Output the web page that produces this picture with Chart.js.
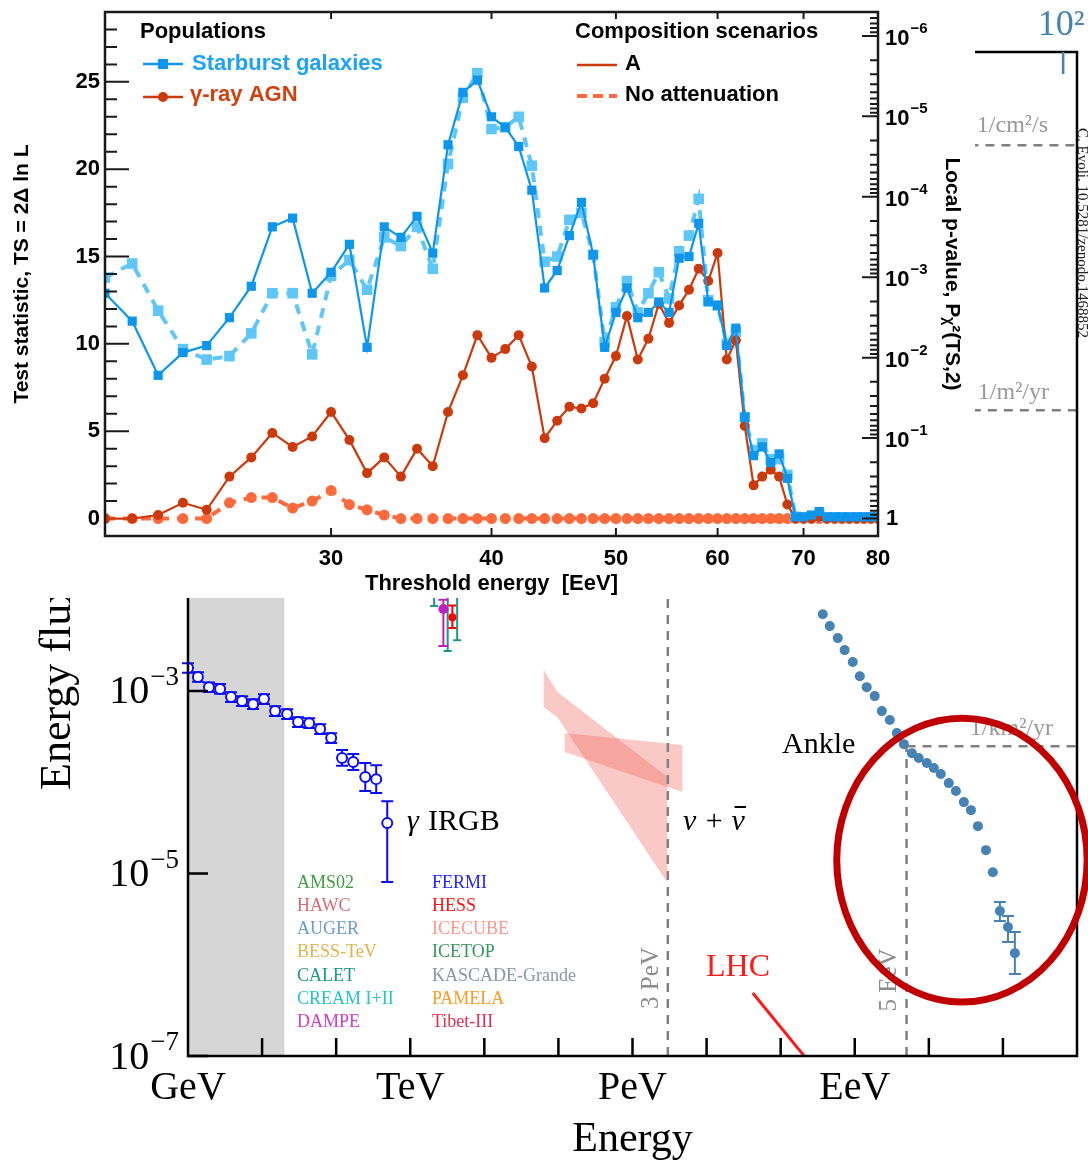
<!DOCTYPE html>
<html>
<head>
<meta charset="utf-8">
<script src="https://cdn.jsdelivr.net/npm/chart.js@4.4.1/dist/chart.umd.min.js"></script>
<style>
  html, body { margin: 0; padding: 0; background: #fff; }
  body { width: 1088px; height: 1161px; position: relative; overflow: hidden; }
  #spectrumBox { position: absolute; left: 0; top: 0; width: 1088px; height: 1161px; }
  #tsBox { position: absolute; left: 0; top: 0; width: 975px; height: 598px; background: #fff; }
</style>
</head>
<body>
<div id="spectrumBox"><canvas id="spectrumChart"></canvas></div>
<div id="tsBox"><canvas id="tsChart"></canvas></div>
<script>
// ---- top panel: test statistic vs threshold energy ----
const thresholdEeV = [20,21,22,23,24,25,26,27,28,29,30,31,32,33,34,35,36,37,38,39,40,41,42,43,44,45,46,47,48,49,50,
  51,52,53,54,55,56,57,58,59,60,61,62,63,64,65,66,67,68,69,70,71,72,73,74,75,76,77,78,79,80];
const tsStarburst = [12.9,11.3,8.2,9.5,9.9,11.5,13.3,16.7,17.2,12.9, 14.1,15.7,9.8,16.7,16.1,17.3,15.2,21.4,24.4,25.1,
  23.0,22.4,21.3,18.8,13.2,14.2,16.2,18.1,15.1,9.8, 11.8,13.2,11.5,11.8,12.4,11.8,14.9,15.0,16.9,12.4,
  12.2,9.9,10.9,5.8,3.6,4.1,3.2,3.7,2.3,0.1, 0.1,0.2,0.4,0.1,0.1,0.1,0.1,0.1,0.1,0.1, 0.1];
const tsStarburstNoAtt = [13.8,14.6,11.9,9.7,9.1,9.3,10.6,12.9,12.9,9.4, 13.9,14.8,13.1,16.1,15.6,16.7,14.3,20.3,24.1,25.5,
  22.3,22.4,23.0,20.2,14.7,15.0,17.1,17.5,15.1,10.1, 12.1,13.6,11.8,12.9,14.1,12.6,15.3,16.2,18.3,12.5,
  12.2,10.0,10.7,5.8,3.9,4.3,3.4,3.4,2.5,0.1, 0.05,0.1,0.2,0.05,0.05,0.05,0.05,0.05,0.05,0.05, 0.05];
const tsAgn = [0,0,0.2,0.9,0.5,2.4,3.5,4.9,4.1,4.7, 6.1,4.5,2.6,3.5,2.4,4.0,3.0,6.1,8.2,10.5,
  9.2,9.7,10.5,8.7,4.6,5.6,6.4,6.3,6.6,8.0, 9.3,11.6,9.1,10.3,12.3,11.2,12.2,13.1,14.3,13.6,
  15.2,9.1,10.2,5.3,1.9,2.4,2.8,2.4,0.8,0, 0,0,0.1,0,0,0,0,0,0,0, 0];
const tsAgnNoAtt = [0,0,0,0,0,0.9,1.2,1.2,0.6,1.0, 1.6,0.8,0.5,0.2,0,0,0,0,0,0,
  0,0,0,0,0,0,0,0,0,0, 0,0,0,0,0,0,0,0,0,0,
  0,0,0,0,0,0,0,0,0,0, 0,0,0,0,0,0,0,0,0,0, 0];
const thresholdTicks = [30, 40, 50, 60, 70, 80];
const tsTicks = [0, 5, 10, 15, 20, 25];
const pExponents = [0, 1, 2, 3, 4, 5, 6];

// ---- bottom panel: cosmic-ray energy flux ----
const irgbE = [1.0,1.36,1.92,2.71,3.81,5.37,7.56,10.6,15.0,21.8,30.6,43.2,60.8,85.6,120,170,247,347,489];
const irgbFlux = [1.78e-3,1.42e-3,1.10e-3,1.05e-3,8.55e-4,7.73e-4,7.16e-4,8.13e-4,6.01e-4,5.57e-4,4.55e-4,4.43e-4,3.82e-4,3.04e-4,1.84e-4,1.66e-4,1.14e-4,1.08e-4,3.56e-5];
const irgbHigh = [2.01e-3,1.60e-3,1.24e-3,1.19e-3,9.66e-4,8.73e-4,8.09e-4,9.19e-4,6.79e-4,6.29e-4,5.14e-4,5.01e-4,4.32e-4,3.44e-4,2.25e-4,2.03e-4,1.62e-4,1.53e-4,6.2e-5];
const irgbLow = [1.58e-3,1.26e-3,9.73e-4,9.29e-4,7.57e-4,6.84e-4,6.34e-4,7.19e-4,5.32e-4,4.93e-4,4.03e-4,3.92e-4,3.38e-4,2.69e-4,1.51e-4,1.36e-4,8.0e-5,7.6e-5,8.05e-6];

const augerE = [3.7e8,4.6e8,5.9e8,7.3e8,9.4e8,1.17e9,1.45e9,1.86e9,2.32e9,2.97e9,3.7e9,4.6e9,5.9e9,7.3e9,9.4e9,
  1.17e10,1.45e10,1.86e10,2.32e10,2.97e10,3.7e10,4.6e10,5.9e10,7.3e10,9.1e10,1.17e11,1.45e11];
const augerFlux = [6.93e-3,5.13e-3,3.79e-3,2.80e-3,2.07e-3,1.45e-3,1.10e-3,8.77e-4,6.01e-4,4.79e-4,3.45e-4,2.61e-4,2.08e-4,1.84e-4,1.62e-4,
  1.43e-4,1.23e-4,9.77e-5,8.00e-5,6.05e-5,4.94e-5,3.30e-5,1.80e-5,1.03e-5,3.87e-6,2.59e-6,1.34e-6];
const augerLow = [null,null,null,null,null,null,null,null,null,null,null,null,null,null,null,
  null,null,null,null,null,null,null,null,null,3.01e-6,1.77e-6,7.91e-7];
const augerHigh = [null,null,null,null,null,null,null,null,null,null,null,null,null,null,null,
  null,null,null,null,null,null,null,null,null,4.86e-6,3.41e-6,2.28e-6];

const dampeE = [2.8e3], dampeFlux = [7.9e-3], dampeLow = [3.1e-3], dampeHigh = [1.0e-2];
const caletE = [2.1e3, 3.2e3, 4.3e3], caletFlux = [1.2e-2, 1.3e-2, 1.2e-2], caletLow = [8.5e-3, 2.73e-3, 3.6e-3], caletHigh = [1.6e-2, 1.7e-2, 1.6e-2];
const hessE = [3.7e3], hessFlux = [6.4e-3], hessLow = [4.9e-3], hessHigh = [8.6e-3];

const nuBandAUpperE = [6.27e4, 9.69e4, 2.97e6], nuBandAUpper = [1.73e-3, 9.71e-4, 1.14e-4];
const nuBandALowerE = [6.27e4, 9.69e4, 2.97e6], nuBandALower = [6.65e-4, 5.16e-4, 7.85e-6];
const nuBandBUpperE = [1.21e5, 4.74e6], nuBandBUpper = [3.45e-4, 2.55e-4];
const nuBandBLowerE = [1.21e5, 2.97e6, 4.74e6], nuBandBLower = [2.14e-4, 8.83e-5, 7.80e-5];

const lhcE = [4.2e7, 2.6e8], lhcFlux = [4.9e-7, 8e-8];

const kneeE = 3e6, kneeFlux = 1.19;
const ankleE = 5e9, ankleFlux = 2.48e-4;
const cm2sFlux = 9.5e2;
const shadeRange = [1, 20];
const energyTicks = [1, 1e3, 1e6, 1e9];
const energyLabels = ['GeV', 'TeV', 'PeV', 'EeV'];
const energyDecades = [1e1,1e2,1e3,1e4,1e5,1e6,1e7,1e8,1e9,1e10,1e11];
const fluxTicks = [1e-7, 1e-5, 1e-3];
const fluxExponents = [-7, -5, -3];
const topAxisE = [6.5e11], topAxisLabels = ['10\u00B2'];

const experimentNames = ['AMS02','HAWC','AUGER','BESS-TeV','CALET','CREAM I+II','DAMPE',
  'FERMI','HESS','ICECUBE','ICETOP','KASCADE-Grande','PAMELA','Tibet-III'];
const experimentColors = ['#3f9f3f','#d76b74','#6b9bcf','#e3b24c','#1b968a','#25c4c6','#cf3acf',
  '#1f1fff','#ff1414','#ff968a','#3a9462','#8a95a5','#ff9a22','#e0304f'];

const pts = (xs, ys) => xs.map((v, i) => ({ x: v, y: ys[i] }));

const SANS = '"Liberation Sans", Arial, sans-serif';
const SERIF = '"Liberation Serif", "DejaVu Serif", serif';

// "10" with a raised exponent; anchor is the left or right edge
function drawPow(ctx, exp, x, y, baseFont, expFont, rise, align) {
  ctx.font = baseFont;
  const wb = ctx.measureText('10').width;
  ctx.font = expFont;
  const et = '\u2212' + exp;
  const we = ctx.measureText(et).width;
  const x0 = align === 'right' ? x - wb - we : x;
  ctx.textAlign = 'left';
  ctx.font = baseFont;
  ctx.fillText('10', x0, y);
  ctx.font = expFont;
  ctx.fillText(et, x0 + wb + 1, y - rise);
}

// error bars drawn before each dataset's points
const errorBars = {
  id: 'errorBars',
  beforeDatasetDraw(chart, args) {
    const ds = chart.data.datasets[args.index];
    if (!ds.errLow) return;
    const { ctx, scales: { x, y } } = chart;
    ctx.save();
    ctx.strokeStyle = ds.errColor;
    ctx.lineWidth = 2;
    ds.data.forEach((p, i) => {
      if (ds.errLow[i] == null) return;
      const px = x.getPixelForValue(p.x);
      const y1 = y.getPixelForValue(ds.errLow[i]);
      const y2 = y.getPixelForValue(ds.errHigh[i]);
      const c = ds.capWidth || 6;
      ctx.beginPath();
      ctx.moveTo(px, y1); ctx.lineTo(px, y2);
      ctx.moveTo(px - c, y1); ctx.lineTo(px + c, y1);
      ctx.moveTo(px - c, y2); ctx.lineTo(px + c, y2);
      ctx.stroke();
    });
    ctx.restore();
  }
};

const spectrumDecor = {
  id: 'spectrumDecor',
  beforeDatasetsDraw(chart) {
    const { ctx, chartArea: a, scales: { x } } = chart;
    const x0 = x.getPixelForValue(shadeRange[0]);
    const x1 = x.getPixelForValue(shadeRange[1]);
    ctx.save();
    ctx.fillStyle = '#d6d6d6';
    ctx.fillRect(x0, a.top, x1 - x0, a.bottom - a.top);
    ctx.restore();
  },
  afterDraw(chart) {
    const { ctx, chartArea: a, scales: { x, y } } = chart;
    ctx.save();
    // frame
    ctx.strokeStyle = '#000';
    ctx.lineWidth = 2.5;
    ctx.strokeRect(a.left, a.top, a.right - a.left, a.bottom - a.top);
    // inward ticks
    ctx.beginPath();
    energyDecades.forEach(v => {
      const px = x.getPixelForValue(v);
      ctx.moveTo(px, a.bottom); ctx.lineTo(px, a.bottom - 18);
    });
    fluxTicks.forEach(v => {
      const py = y.getPixelForValue(v);
      ctx.moveTo(a.left, py); ctx.lineTo(a.left + 20, py);
    });
    ctx.stroke();
    // flux tick labels
    ctx.fillStyle = '#000';
    ctx.textBaseline = 'middle';
    fluxTicks.forEach((v, i) => {
      drawPow(ctx, String(-fluxExponents[i]), a.left - 10, y.getPixelForValue(v) + 2,
        '40px ' + SERIF, '27px ' + SERIF, 15, 'right');
    });
    // top axis tick
    ctx.strokeStyle = '#4682b4';
    ctx.fillStyle = '#4682b4';
    ctx.font = '36px ' + SERIF;
    ctx.textAlign = 'center';
    topAxisE.forEach((v, i) => {
      const px = x.getPixelForValue(v);
      ctx.beginPath(); ctx.moveTo(px, a.top); ctx.lineTo(px, a.top + 22); ctx.stroke();
      ctx.fillText(topAxisLabels[i], px - 2, 26);
    });
    // y title
    ctx.fillStyle = '#000';
    ctx.save();
    ctx.translate(58, 790);
    ctx.rotate(-Math.PI / 2);
    ctx.font = '44px ' + SERIF;
    ctx.textAlign = 'left';
    ctx.fillText('Energy flux [GeV/m\u00B2/s/sr]', 0, 0);
    ctx.restore();
    // annotations
    ctx.textAlign = 'left';
    ctx.font = '30px ' + SERIF;
    ctx.fillText('Ankle', 782, 745);
    ctx.font = 'italic 30px ' + SERIF;
    ctx.fillText('\u03B3', 407, 822);
    ctx.font = '30px ' + SERIF;
    ctx.fillText('IRGB', 428, 822);
    ctx.font = 'italic 30px ' + SERIF;
    const nuLead = '\u03BD + ';
    ctx.fillText(nuLead + '\u03BD', 683, 822);
    const wLead = ctx.measureText(nuLead).width;
    const wNu = ctx.measureText('\u03BD').width;
    ctx.fillRect(683 + wLead + 3, 806, wNu - 2, 2);
    ctx.fillStyle = '#ff1a1a';
    ctx.font = '32px ' + SERIF;
    ctx.fillText('LHC', 706, 968);
    ctx.fillStyle = '#8c8c8c';
    ctx.font = '25px ' + SERIF;
    ctx.textAlign = 'center';
    [[651, 978, '3 PeV'], [889, 980, '5 EeV']].forEach(([tx, ty, t]) => {
      ctx.save(); ctx.translate(tx, ty); ctx.rotate(-Math.PI / 2); ctx.fillText(t, 0, 0); ctx.restore();
    });
    ctx.textAlign = 'right';
    ctx.font = '24px ' + SERIF;
    ctx.fillStyle = '#999';
    ctx.fillText('1/cm\u00B2/s', 1048, 126);
    ctx.fillText('1/m\u00B2/yr', 1049, 393);
    ctx.fillText('1/km\u00B2/yr', 1053, 729);
    // credit
    ctx.save();
    ctx.translate(1082, 128);
    ctx.rotate(Math.PI / 2);
    ctx.textAlign = 'left';
    ctx.fillStyle = '#222';
    ctx.font = '15px ' + SERIF;
    ctx.fillText('C. Evoli, 10.5281/zenodo.1468852', 0, 0);
    ctx.restore();
    // experiment list
    ctx.textAlign = 'left';
    ctx.font = '18px ' + SERIF;
    experimentNames.forEach((n, i) => {
      const col = i < 7 ? 0 : 1;
      const row = i % 7;
      ctx.fillStyle = experimentColors[i];
      ctx.fillText(n, col ? 432 : 297, 883 + row * 23.2);
    });
    // highlight ellipse
    const cx = x.getPixelForValue(2.8e10);
    const rx = x.getPixelForValue(2.8e10 * Math.pow(10, 1.69)) - cx;
    const cy = y.getPixelForValue(1.4e-5);
    const ry = cy - y.getPixelForValue(1.4e-5 * Math.pow(10, 1.555));
    ctx.strokeStyle = '#c00000';
    ctx.lineWidth = 7;
    ctx.beginPath();
    ctx.ellipse(cx, cy, rx, ry, 0, 0, Math.PI * 2);
    ctx.stroke();
    ctx.restore();
  }
};

const guide = (data) => ({ data, borderColor: '#808080', borderWidth: 2.5, borderDash: [9, 7], pointRadius: 0, fill: false });
const band = { borderWidth: 0, pointRadius: 0, backgroundColor: 'rgba(240,100,90,0.35)' };

new Chart(document.getElementById('spectrumChart'), {
  type: 'line',
  data: {
    datasets: [
      { label: 'AUGER', data: pts(augerE, augerFlux), showLine: false, pointRadius: 5, pointBackgroundColor: '#4682b4', pointBorderWidth: 0,
        errLow: augerLow, errHigh: augerHigh, errColor: '#4682b4', capWidth: 6 },
      { label: 'FERMI', data: pts(irgbE, irgbFlux), showLine: false, pointRadius: 5, pointBackgroundColor: '#fff', pointBorderColor: '#0a0aff', pointBorderWidth: 2,
        errLow: irgbLow, errHigh: irgbHigh, errColor: '#0a0aff', capWidth: 6 },
      { label: 'DAMPE', data: pts(dampeE, dampeFlux), showLine: false, pointRadius: 5, pointBackgroundColor: '#c020c0', pointBorderWidth: 0,
        errLow: dampeLow, errHigh: dampeHigh, errColor: '#c020c0', capWidth: 5 },
      { label: 'HESS', data: pts(hessE, hessFlux), showLine: false, pointRadius: 4, pointBackgroundColor: '#ff0000', pointBorderWidth: 0,
        errLow: hessLow, errHigh: hessHigh, errColor: '#ff0000', capWidth: 4 },
      { label: 'CALET', data: pts(caletE, caletFlux), showLine: false, pointRadius: 3, pointBackgroundColor: '#1b968a', pointBorderWidth: 0,
        errLow: caletLow, errHigh: caletHigh, errColor: '#1b968a', capWidth: 4 },
      { label: 'LHC', data: pts(lhcE, lhcFlux), borderColor: '#ff1a1a', borderWidth: 3, pointRadius: 0, fill: false },
      guide([{ x: 30, y: cm2sFlux }, { x: 1e12, y: cm2sFlux }]),
      guide([{ x: kneeE, y: kneeFlux }, { x: 1e12, y: kneeFlux }]),
      guide([{ x: kneeE, y: 1e-7 }, { x: kneeE, y: kneeFlux }]),
      guide([{ x: ankleE, y: ankleFlux }, { x: 1e12, y: ankleFlux }]),
      guide([{ x: ankleE, y: 1e-7 }, { x: ankleE, y: ankleFlux }]),
      Object.assign({ label: 'IceCube A', data: pts(nuBandAUpperE, nuBandAUpper), fill: '+1' }, band),
      Object.assign({ data: pts(nuBandALowerE, nuBandALower), fill: false }, band),
      Object.assign({ label: 'IceCube B', data: pts(nuBandBUpperE, nuBandBUpper), fill: '+1' }, band),
      Object.assign({ data: pts(nuBandBLowerE, nuBandBLower), fill: false }, band)
    ]
  },
  options: {
    responsive: true,
    maintainAspectRatio: false,
    animation: false,
    events: [],
    layout: { padding: { top: 52, right: 11, left: 0, bottom: 0 } },
    plugins: { legend: { display: false }, tooltip: { enabled: false } },
    scales: {
      x: {
        type: 'logarithmic', min: 1, max: 1e12,
        afterBuildTicks: s => { s.ticks = energyTicks.map(v => ({ value: v })); },
        afterFit: s => { s.height = 105; s.paddingLeft = 0; s.paddingRight = 0; },
        ticks: { callback: (v, i) => energyLabels[i], autoSkip: false, maxRotation: 0, color: '#000', padding: 8,
          font: { family: SERIF, size: 40 } },
        grid: { display: false, drawTicks: false },
        border: { display: false },
        title: { display: true, text: 'Energy', color: '#000', font: { family: SERIF, size: 42, lineHeight: 1 }, padding: { top: 0, bottom: 0 } }
      },
      y: {
        type: 'logarithmic', min: 1e-7, max: 1e4,
        afterBuildTicks: s => { s.ticks = fluxTicks.map(v => ({ value: v })); },
        afterFit: s => { s.width = 188; s.paddingTop = 0; s.paddingBottom = 0; },
        ticks: { display: false },
        grid: { display: false, drawTicks: false },
        border: { display: false }
      }
    }
  },
  plugins: [spectrumDecor, errorBars]
});

// ---- top chart decoration: frame, inward ticks, p-value labels, legend ----
const tsDecor = {
  id: 'tsDecor',
  afterDraw(chart) {
    const { ctx, chartArea: a, scales: { x, y } } = chart;
    ctx.save();
    ctx.strokeStyle = '#1a1a1a';
    ctx.lineWidth = 2.5;
    ctx.strokeRect(a.left, a.top, a.right - a.left, a.bottom - a.top);
    ctx.lineWidth = 2;
    ctx.beginPath();
    for (let v = 1; v <= 28; v++) {
      const py = y.getPixelForValue(v);
      const len = v % 5 === 0 ? 24 : 12;
      ctx.moveTo(a.left, py); ctx.lineTo(a.left + len, py);
    }
    for (let k = 0; k <= 7; k++) {
      for (let m = 1; m <= 9; m++) {
        const ts = -2 * Math.log(m * Math.pow(10, -k));
        if (ts < -0.5 || ts > 29) continue;
        const py = y.getPixelForValue(ts);
        const len = m === 1 ? 16 : 8;
        ctx.moveTo(a.right, py); ctx.lineTo(a.right - len, py);
      }
    }
    thresholdTicks.forEach(v => {
      const px = x.getPixelForValue(v);
      ctx.moveTo(px, a.bottom); ctx.lineTo(px, a.bottom - 8);
      ctx.moveTo(px, a.top); ctx.lineTo(px, a.top + 7);
    });
    ctx.stroke();

    // p-value labels on the right axis
    ctx.fillStyle = '#000';
    ctx.textBaseline = 'middle';
    pExponents.forEach(k => {
      const py = y.getPixelForValue(2 * k * Math.LN10);
      if (k === 0) {
        ctx.font = 'bold 22px ' + SANS;
        ctx.textAlign = 'left';
        ctx.fillText('1', a.right + 8, py);
      } else {
        drawPow(ctx, String(k), a.right + 7, py + 3, 'bold 22px ' + SANS, 'bold 15px ' + SANS, 10, 'left');
      }
    });

    // legend
    ctx.textAlign = 'left';
    ctx.font = 'bold 22px ' + SANS;
    ctx.fillStyle = '#000';
    ctx.fillText('Populations', 140, 32);
    ctx.fillText('Composition scenarios', 575, 32);

    ctx.strokeStyle = '#0e96ec'; ctx.lineWidth = 2.5;
    ctx.beginPath(); ctx.moveTo(143, 64); ctx.lineTo(183, 64); ctx.stroke();
    ctx.fillStyle = '#0e96ec'; ctx.fillRect(158, 59, 10, 10);
    ctx.fillStyle = '#1ea2f2';
    ctx.fillText('Starburst galaxies', 192, 64);

    ctx.strokeStyle = '#cc3a0c';
    ctx.beginPath(); ctx.moveTo(143, 97); ctx.lineTo(183, 97); ctx.stroke();
    ctx.fillStyle = '#cc3a0c';
    ctx.beginPath(); ctx.arc(163, 97, 5, 0, Math.PI * 2); ctx.fill();
    ctx.fillStyle = '#d2400f';
    ctx.fillText('\u03B3-ray AGN', 190, 95);

    ctx.strokeStyle = '#cc3a0c'; ctx.lineWidth = 2.5;
    ctx.beginPath(); ctx.moveTo(577, 65); ctx.lineTo(617, 65); ctx.stroke();
    ctx.strokeStyle = '#ff6a3d'; ctx.lineWidth = 4; ctx.setLineDash([10, 6]);
    ctx.beginPath(); ctx.moveTo(577, 96); ctx.lineTo(617, 96); ctx.stroke();
    ctx.setLineDash([]);
    ctx.fillStyle = '#000';
    ctx.fillText('A', 625, 64);
    ctx.fillText('No attenuation', 625, 95);
    ctx.restore();
  }
};

new Chart(document.getElementById('tsChart'), {
  type: 'line',
  data: {
    datasets: [
      { label: 'Starburst galaxies', data: pts(thresholdEeV, tsStarburst), borderColor: '#0e96ec', backgroundColor: '#0e96ec',
        borderWidth: 2.2, pointStyle: 'rect', pointRadius: 6.5, pointBorderWidth: 0 },
      { label: '\u03B3-ray AGN', data: pts(thresholdEeV, tsAgn), borderColor: '#cc3a0c', backgroundColor: '#cc3a0c',
        borderWidth: 2.2, pointStyle: 'circle', pointRadius: 5, pointBorderWidth: 0 },
      { label: 'Starburst, no attenuation', data: pts(thresholdEeV, tsStarburstNoAtt), borderColor: '#5fc6fa', backgroundColor: '#5fc6fa',
        borderWidth: 4, borderDash: [10, 8], pointStyle: 'rect', pointRadius: 7.5, pointBorderWidth: 0 },
      { label: '\u03B3-ray AGN, no attenuation', data: pts(thresholdEeV, tsAgnNoAtt), borderColor: '#ff6a3d', backgroundColor: '#ff6a3d',
        borderWidth: 4, borderDash: [10, 8], pointStyle: 'circle', pointRadius: 5.5, pointBorderWidth: 0 }
    ]
  },
  options: {
    responsive: true,
    maintainAspectRatio: false,
    animation: false,
    events: [],
    layout: { padding: { top: 12, right: 0, left: 0, bottom: 0 } },
    plugins: { legend: { display: false }, tooltip: { enabled: false } },
    scales: {
      x: {
        type: 'logarithmic', min: 20, max: 80,
        afterBuildTicks: s => { s.ticks = thresholdTicks.map(v => ({ value: v })); },
        afterFit: s => { s.height = 62; s.paddingLeft = 0; s.paddingRight = 0; },
        ticks: { callback: v => String(v), autoSkip: false, maxRotation: 0, color: '#000', padding: 10,
          font: { family: SANS, size: 22, weight: 'bold' } },
        grid: { display: false, drawTicks: false },
        border: { display: false },
        title: { display: true, text: 'Threshold energy  [EeV]', color: '#000', font: { family: SANS, size: 22, weight: 'bold' },
          padding: { top: 0, bottom: 1 } }
      },
      y: {
        type: 'linear', min: -1, max: 29,
        afterBuildTicks: s => { s.ticks = tsTicks.map(v => ({ value: v })); },
        afterFit: s => { s.width = 105; s.paddingTop = 0; s.paddingBottom = 0; },
        ticks: { color: '#000', padding: 5, font: { family: SANS, size: 22, weight: 'bold' } },
        grid: { display: false, drawTicks: false },
        border: { display: false },
        title: { display: true, text: 'Test statistic, TS = 2\u0394 ln L', color: '#000', font: { family: SANS, size: 21, weight: 'bold' },
          padding: { top: 10, bottom: 0 } }
      },
      y2: {
        type: 'linear', position: 'right', min: -1, max: 29,
        afterBuildTicks: s => { s.ticks = pExponents.map(k => ({ value: 2 * k * Math.LN10 })); },
        afterFit: s => { s.width = 97; s.paddingTop = 0; s.paddingBottom = 0; },
        ticks: { display: false },
        grid: { display: false, drawTicks: false },
        border: { display: false },
        title: { display: true, text: 'Local p-value, P\u1D6A\u00B2(TS,2)', color: '#000', font: { family: SANS, size: 21, weight: 'bold' },
          padding: { top: 11, bottom: 0 } }
      }
    }
  },
  plugins: [tsDecor]
});
</script>
</body>
</html>
